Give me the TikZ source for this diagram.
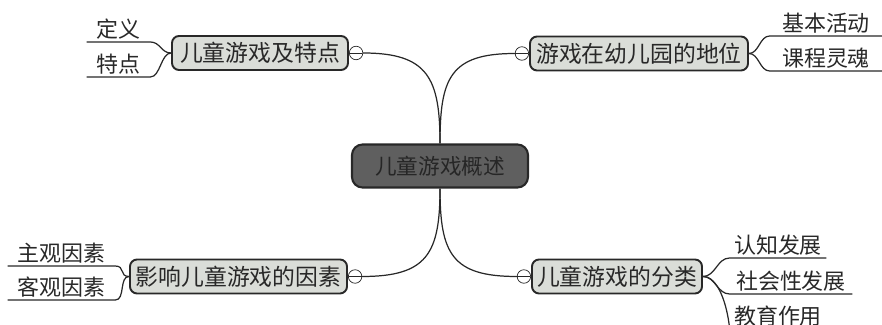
\documentclass[tikz,border=0pt]{standalone}
\usepackage{fontspec}
\setmainfont{Noto Sans CJK SC}
\usetikzlibrary{positioning}
\definecolor{rootgray}{RGB}{95,95,95}
\definecolor{topicgray}{RGB}{218,221,216}
\definecolor{inkgray}{RGB}{40,40,40}

\begin{document}
\begin{tikzpicture}[
    root/.style={draw=inkgray,line width=1.2pt,rounded corners=6pt,fill=rootgray,minimum width=3.52cm,minimum height=0.86cm,font=\fontsize{12.3}{14}\selectfont,text=black!85},
    topic/.style={draw=inkgray,line width=1.1pt,rounded corners=4pt,fill=topicgray,inner xsep=2pt,minimum height=0.68cm,font=\fontsize{13}{15}\selectfont,text=inkgray},
    knob/.style={draw=inkgray,circle,fill=white,minimum size=0.27cm,inner sep=0pt,path picture={\draw[inkgray] (path picture bounding box.west) -- (path picture bounding box.east);}},
    leaf/.style={inner xsep=0pt,inner ysep=1.5pt,anchor=south,font=\fontsize{12.5}{14}\selectfont,text=inkgray},
    link/.style={draw=inkgray,line width=0.7pt}
]
    \useasboundingbox (0,0) rectangle (17.64,6.5);
    \clip (0,0) rectangle (17.64,6.5);

    % Central topic
    \node[root] (overview) at (8.8,3.18) {儿童游戏概述};

    % Main branches
    \node[topic,minimum width=3.52cm] (traits) at (5.2,5.44) {儿童游戏及特点};
    \node[topic,minimum width=4.36cm] (status) at (12.78,5.43) {游戏在幼儿园的地位};
    \node[topic,minimum width=4.34cm] (factors) at (4.77,0.97) {影响儿童游戏的因素};
    \node[topic,minimum width=3.40cm] (kinds) at (12.34,0.97) {儿童游戏的分类};

    % Collapse knobs
    \node[knob,right=0pt of traits] (ktraits) {};
    \node[knob,left=0pt of status] (kstatus) {};
    \node[knob,right=0pt of factors] (kfactors) {};
    \node[knob,left=0pt of kinds] (kkinds) {};

    % Sub topics
    \node[leaf,minimum width=1.26cm] (define) at (2.37,5.66) {定义};
    \node[leaf,minimum width=1.26cm] (feature) at (2.37,4.96) {特点};
    \node[leaf,minimum width=2.24cm] (basic) at (16.52,5.78) {基本活动};
    \node[leaf,minimum width=2.24cm] (soul) at (16.52,5.08) {课程灵魂};
    \node[leaf,minimum width=2.14cm] (subj) at (1.23,1.18) {主观因素};
    \node[leaf,minimum width=2.14cm] (obj) at (1.23,0.50) {客观因素};
    \node[leaf,minimum width=1.92cm] (cogn) at (15.56,1.34) {认知发展};
    \node[leaf,minimum width=2.44cm] (social) at (15.82,0.62) {社会性发展};
    \node[leaf,minimum width=1.92cm] (edu) at (15.56,-0.08) {教育作用};

    % Links to the centre
    \draw[link] (ktraits.east) .. controls +(1.3,0) and +(0,1.3) .. (overview.north);
    \draw[link] (kstatus.west) .. controls +(-1.3,0) and +(0,1.3) .. (overview.north);
    \draw[link] (kfactors.east) .. controls +(1.3,0) and +(0,-1.3) .. (overview.south);
    \draw[link] (kkinds.west) .. controls +(-1.3,0) and +(0,-1.3) .. (overview.south);

    % Links to sub topics
    \draw[link] (traits.west) .. controls +(-0.2,0) and +(0.2,0) .. (define.south east) -- (define.south west);
    \draw[link] (traits.west) .. controls +(-0.2,0) and +(0.2,0) .. (feature.south east) -- (feature.south west);
    \draw[link] (status.east) .. controls +(0.2,0) and +(-0.2,0) .. (basic.south west) -- (basic.south east);
    \draw[link] (status.east) .. controls +(0.2,0) and +(-0.2,0) .. (soul.south west) -- (soul.south east);
    \draw[link] (factors.west) .. controls +(-0.2,0) and +(0.2,0) .. (subj.south east) -- (subj.south west);
    \draw[link] (factors.west) .. controls +(-0.2,0) and +(0.2,0) .. (obj.south east) -- (obj.south west);
    \draw[link] (kinds.east) .. controls +(0.25,0) and +(-0.25,0) .. (cogn.south west) -- (cogn.south east);
    \draw[link] (kinds.east) .. controls +(0.25,0) and +(-0.25,0) .. (social.south west) -- (social.south east);
    \draw[link] (kinds.east) .. controls +(0.3,0) and +(-0.05,0.5) .. (edu.south west) -- (edu.south east);
\end{tikzpicture}
\end{document}
